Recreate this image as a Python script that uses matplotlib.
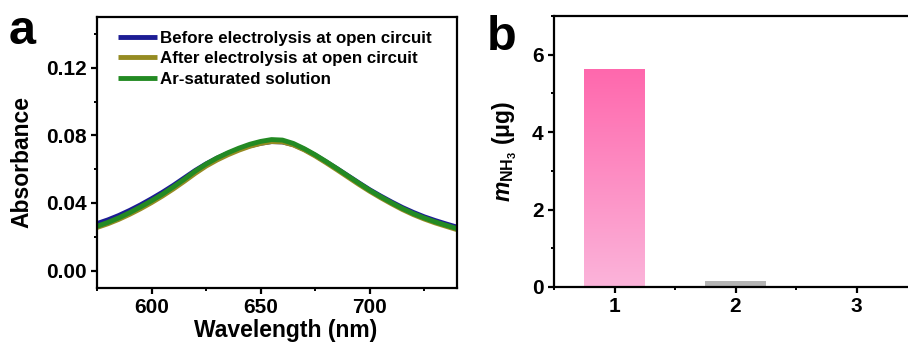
import numpy as np
import matplotlib
matplotlib.use("Agg")
import matplotlib.pyplot as plt
from matplotlib.colors import LinearSegmentedColormap
from matplotlib.ticker import MultipleLocator

plt.rcParams['font.family'] = ['Liberation Sans', 'DejaVu Sans']
plt.rcParams['font.weight'] = 'bold'
plt.rcParams['mathtext.fontset'] = 'custom'
plt.rcParams['mathtext.it'] = 'Liberation Sans:italic:bold'
plt.rcParams['mathtext.bf'] = 'Liberation Sans:bold'
plt.rcParams['mathtext.rm'] = 'Liberation Sans:bold'

# ---------------- data ----------------
wavelength = [575, 580, 585, 590, 595, 600, 605, 610, 615, 620, 625, 630, 635,
              640, 645, 650, 655, 660, 665, 670, 675, 680, 685, 690, 695, 700,
              705, 710, 715, 720, 725, 730, 735, 740]
abs_before = [0.0278, 0.0300, 0.0326, 0.0356, 0.0389, 0.0425, 0.0463, 0.0504,
              0.0548, 0.0592, 0.0631, 0.0665, 0.0693, 0.0718, 0.0738, 0.0753,
              0.0763, 0.0761, 0.0745, 0.0717, 0.0682, 0.0643, 0.0603, 0.0561,
              0.0519, 0.0478, 0.0441, 0.0406, 0.0373, 0.0344, 0.0318, 0.0296,
              0.0276, 0.0257]
abs_after = [0.0255, 0.0277, 0.0303, 0.0333, 0.0366, 0.0402, 0.0441, 0.0483,
             0.0528, 0.0575, 0.0618, 0.0654, 0.0685, 0.0712, 0.0735, 0.0752,
             0.0763, 0.0761, 0.0743, 0.0714, 0.0678, 0.0638, 0.0596, 0.0553,
             0.0510, 0.0469, 0.0431, 0.0395, 0.0361, 0.0331, 0.0305, 0.0282,
             0.0262, 0.0242]
abs_ar = [0.0262, 0.0285, 0.0312, 0.0343, 0.0377, 0.0413, 0.0452, 0.0495,
          0.0540, 0.0588, 0.0630, 0.0666, 0.0697, 0.0724, 0.0747, 0.0764,
          0.0775, 0.0772, 0.0752, 0.0721, 0.0685, 0.0645, 0.0603, 0.0560,
          0.0517, 0.0475, 0.0437, 0.0401, 0.0367, 0.0337, 0.0311, 0.0288,
          0.0268, 0.0248]
series_labels = ['Before electrolysis at open circuit',
                 'After electrolysis at open circuit',
                 'Ar-saturated solution']

bar_categories = [1, 2, 3]
bar_values = [5.62, 0.15, 0.0]
bar_ticklabels = ['1', '2', '3']

# ---------------- figure ----------------
fig = plt.figure(figsize=(9.08, 3.43), dpi=100)
W, H = 908, 343

def pos(l, r, t, b):
    return [l / W, (H - b) / H, (r - l) / W, (b - t) / H]

axa = fig.add_axes(pos(97, 457, 17, 288))
axb = fig.add_axes(pos(554, 917, 16, 287))

colors = ['#1c1c94', '#958b22', '#238a23']
for y, c, lab in zip([abs_before, abs_after, abs_ar], colors, series_labels):
    axa.plot(wavelength, y, color=c, lw=3.5, label=lab, solid_capstyle='butt')

axa.set_xlim(575, 740)
axa.set_ylim(-0.0103, 0.15)
axa.set_xticks([600, 650, 700])
axa.xaxis.set_minor_locator(MultipleLocator(25))
axa.set_yticks([0.00, 0.04, 0.08, 0.12])
axa.set_yticklabels(['0.00', '0.04', '0.08', '0.12'])
axa.yaxis.set_minor_locator(MultipleLocator(0.02))
axa.set_xlabel('Wavelength (nm)', fontsize=16.5, fontweight='bold', labelpad=0)
axa.xaxis.set_label_coords(0.525, -0.115)
axa.set_ylabel('Absorbance', fontsize=16.5, fontweight='bold', labelpad=2)
axa.yaxis.set_label_coords(-0.176, 0.465)
leg = axa.legend(loc='upper left', frameon=False, fontsize=12.2,
                 handlelength=2.3, handletextpad=0.15, labelspacing=0.33,
                 borderaxespad=0.0, bbox_to_anchor=(0.04, 0.975))
for t in leg.get_texts():
    t.set_fontweight('bold')

# bar chart
bars = axb.bar(bar_categories, bar_values, width=0.5,
               color=['none', '#b4b4b4', '#b4b4b4'], edgecolor='none')
cmap = LinearSegmentedColormap.from_list('pink', ['#fbb4da', '#ff68ad'])
p = bars[0]
grad = np.linspace(0, 1, 256).reshape(-1, 1)
im = axb.imshow(grad, cmap=cmap, origin='lower', aspect='auto',
                extent=(p.get_x(), p.get_x() + p.get_width(), 0, p.get_height()),
                zorder=2)
im.set_clip_path(p)
axb.set_xlim(0.5, 3.5)
axb.set_ylim(0, 7)
axb.set_xticks(bar_categories)
axb.set_xticklabels(bar_ticklabels)
axb.xaxis.set_minor_locator(MultipleLocator(0.5))
axb.set_yticks([0, 2, 4, 6])
axb.yaxis.set_minor_locator(MultipleLocator(1))
axb.set_ylabel(r'$\mathit{m}_{\mathbf{NH_3}}$ (μg)', fontsize=16.5,
               fontweight='bold', labelpad=9)

for ax in (axa, axb):
    for s in ax.spines.values():
        s.set_linewidth(1.6)
    ax.tick_params(which='major', direction='out', length=4.5, width=1.6,
                   labelsize=15, pad=3)
    ax.tick_params(which='minor', direction='out', length=2.5, width=1.4)
    for lab in ax.get_xticklabels() + ax.get_yticklabels():
        lab.set_fontweight('bold')

fig.text(9 / W, 1 - 44 / H, 'a', fontsize=35, fontweight='bold', va='baseline')
fig.text(487 / W, 1 - 50 / H, 'b', fontsize=35, fontweight='bold', va='baseline')

fig.savefig('out.png', dpi=100)
